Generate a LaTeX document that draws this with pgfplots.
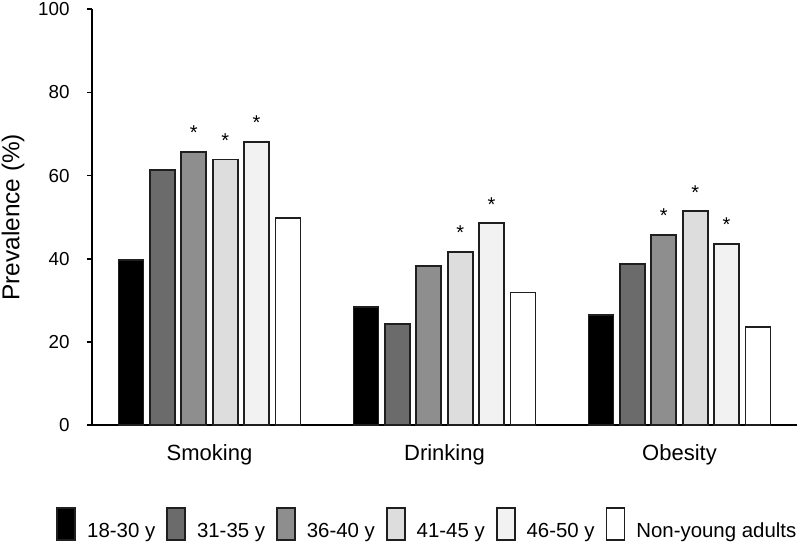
\documentclass[border=0pt]{standalone}
\usepackage{fontspec}
\setmainfont{Liberation Sans}
\usepackage{pgfplots}
\pgfplotsset{compat=1.18}
\definecolor{gA}{HTML}{000000}
\definecolor{gB}{HTML}{6B6B6B}
\definecolor{gC}{HTML}{8E8E8E}
\definecolor{gD}{HTML}{DDDDDD}
\definecolor{gE}{HTML}{F2F2F2}
\definecolor{gF}{HTML}{FFFFFF}
\begin{document}
\begin{tikzpicture}
\begin{axis}[
  scale only axis,
  width=352.5pt, height=208pt,
  ybar=3.2pt, bar width=12.5pt,
  xmin=-0.5, xmax=2.5, ymin=0, ymax=100,
  axis x line=bottom, axis y line=left,
  axis line style={-, line width=0.8pt, black},
  xtick={0,1,2}, xticklabels={Smoking,Drinking,Obesity},
  major x tick style={draw=none},
  ytick={0,20,...,100},
  tick align=outside, major tick length=2.5pt,
  ytick style={line width=0.8pt, black},
  /pgf/number format/assume math mode=true,
  yticklabel style={inner sep=0pt, xshift=-8.5pt, font=\fontsize{9.4}{11}\selectfont},
  xticklabel style={inner sep=0pt, yshift=-7pt, font=\fontsize{11}{13}\selectfont},
  ylabel={Prevalence (\%)},
  ylabel style={at={([xshift=-39.5pt]axis description cs:0,0.5)}, anchor=center,
    font=\fontsize{12.2}{14}\selectfont},
  nodes near coords={\pgfplotspointmeta},
  point meta=explicit symbolic,
  nodes near coords style={inner sep=0pt, anchor=base, yshift=6pt, black},
  legend columns=6,
  legend image code/.code={\draw[#1] (0pt,-4.4pt) rectangle (9pt,11.6pt);},
  legend style={draw=none, at={(0,0)}, anchor=west, xshift=-18pt, yshift=-49.5pt,
    inner sep=0pt, nodes={inner sep=0pt}, font=\fontsize{10.2}{12}\selectfont,
    /tikz/every odd column/.append style={column sep=5.5pt},
    /tikz/every even column/.append style={column sep=5.5pt}},
  every axis plot/.append style={draw=black!88, line width=0.9pt},
]
% 18-30 y
\addplot[fill=gA] coordinates {(0,39.8) [] (1,28.4) [] (2,26.5) []};
\addlegendentry{18-30 y}
% 31-35 y
\addplot[fill=gB] coordinates {(0,61.4) [] (1,24.3) [] (2,38.7) []};
\addlegendentry{31-35 y}
% 36-40 y
\addplot[fill=gC] coordinates {(0,65.7) [*] (1,38.2) [] (2,45.8) [*]};
\addlegendentry{36-40 y}
% 41-45 y
\addplot[fill=gD] coordinates {(0,63.9) [*] (1,41.7) [*] (2,51.5) [*]};
\addlegendentry{41-45 y}
% 46-50 y
\addplot[fill=gE] coordinates {(0,68.1) [*] (1,48.6) [*] (2,43.6) [*]};
\addlegendentry{46-50 y}
% non-young adults
\addplot[fill=gF] coordinates {(0,49.9) [] (1,31.9) [] (2,23.7) []};
\addlegendentry{Non-young adults}
\end{axis}
\pgfresetboundingbox
\path (-46pt,-59.25pt) rectangle (354pt,212.65pt);
\end{tikzpicture}
\end{document}
